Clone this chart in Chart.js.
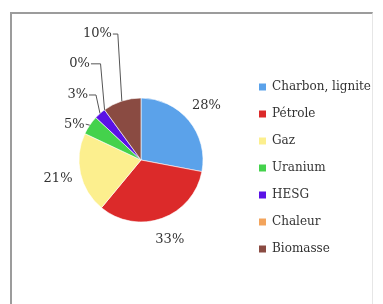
<!DOCTYPE html>
<html>
<head>
<meta charset="utf-8">
<script src="https://cdn.jsdelivr.net/npm/chart.js@4.4.1/dist/chart.umd.min.js"></script>
<style>
  html, body { margin: 0; padding: 0; background: #fff; }
  #wrap { position: relative; width: 383px; height: 304px; overflow: hidden; }
  #frame {
    position: absolute; left: 10px; top: 12px; width: 360px; height: 320px;
    border-top: 2px solid #9c9c9c; border-left: 2px solid #9c9c9c; border-right: 1px solid #e6e6e6;
  }
  canvas { position: absolute; left: 0; top: 0; }
</style>
</head>
<body>
<div id="wrap">
  <div id="frame"></div>
  <canvas id="chart" width="383" height="304"></canvas>
</div>
<script>
const SOURCES = ['Charbon, lignite', 'Pétrole', 'Gaz', 'Uranium', 'HESG', 'Chaleur', 'Biomasse'];
const SHARES = [28, 33, 21, 5, 3, 0, 10];
const COLORS = ['#5ba2ea', '#dc2a2a', '#fcef8e', '#44d24c', '#5a12e6', '#f3a45c', '#8a4b42'];

// moves the pie and the legend to where they sit in the original picture
const placeBoxes = {
  id: 'placeBoxes',
  afterLayout(chart, args, opts) {
    const a = chart.chartArea;
    const [l, t, r, b] = opts.pie;
    a.left = l; a.top = t; a.right = r; a.bottom = b;
    a.width = r - l; a.height = b - t;
    const lg = chart.legend;
    const w = lg.width;
    lg.left = opts.legend[0];
    lg.top = opts.legend[1];
    lg.right = lg.left + w;
    lg.bottom = chart.height;
    lg.width = w;
    lg.height = lg.bottom - lg.top;
  }
};

// percentage labels, with leader lines for the thin slices
const sliceLabels = {
  id: 'sliceLabels',
  afterDatasetsDraw(chart, args, opts) {
    const ctx = chart.ctx;
    const arcs = chart.getDatasetMeta(0).data;
    ctx.save();
    ctx.font = opts.font;
    ctx.fillStyle = opts.color;
    ctx.strokeStyle = opts.lineColor;
    ctx.lineWidth = 1;
    ctx.textBaseline = 'middle';
    arcs.forEach((arc, i) => {
      const { x, y, startAngle, endAngle, outerRadius } =
        arc.getProps(['x', 'y', 'startAngle', 'endAngle', 'outerRadius'], true);
      const mid = (startAngle + endAngle) / 2;
      const text = SHARES[i] + '%';
      const co = opts.callouts[i];
      if (!co) {
        const r = outerRadius + opts.offset;
        ctx.textAlign = 'center';
        ctx.fillText(text, x + Math.cos(mid) * r, y + Math.sin(mid) * r);
        return;
      }
      const ax = x + Math.cos(mid) * outerRadius;
      const ay = y + Math.sin(mid) * outerRadius;
      const lx = ax - co[0];
      const ly = ay - co[1];
      ctx.textAlign = 'right';
      ctx.fillText(text, lx, ly);
      ctx.beginPath();
      ctx.moveTo(lx + 1, ly);
      if (co[1] > 3) ctx.lineTo(ax - opts.elbow, ly);
      ctx.lineTo(ax, ay);
      ctx.stroke();
    });
    ctx.restore();
  }
};

const ctx = document.getElementById('chart').getContext('2d');
new Chart(ctx, {
  type: 'pie',
  data: {
    labels: SOURCES,
    datasets: [{
      data: SHARES,
      backgroundColor: COLORS,
      borderColor: 'rgba(255,255,255,0.6)',
      borderWidth: 1,
      radius: 62,
      hoverOffset: 0,
    }],
  },
  options: {
    responsive: false,
    animation: false,
    events: [],
    plugins: {
      tooltip: { enabled: false },
      legend: {
        position: 'right',
        align: 'start',
        labels: {
          boxWidth: 7,
          boxHeight: 7,
          padding: 15,
          color: '#333',
          font: { family: 'DejaVu Serif', size: 12 },
          generateLabels: (chart) =>
            Chart.overrides.pie.plugins.legend.labels.generateLabels(chart)
              .map((item) => ({ ...item, lineWidth: 0 })),
        },
      },
      placeBoxes: { pie: [79, 98, 203, 222], legend: [244, 66] },
      sliceLabels: {
        font: '13px "DejaVu Serif"',
        color: '#333',
        lineColor: '#555',
        offset: 23,
        elbow: 4,
        callouts: { 3: [5, 1], 4: [12, 18.5], 5: [14.6, 46], 6: [10, 67] },
      },
    },
  },
  plugins: [placeBoxes, sliceLabels],
});
</script>
</body>
</html>
